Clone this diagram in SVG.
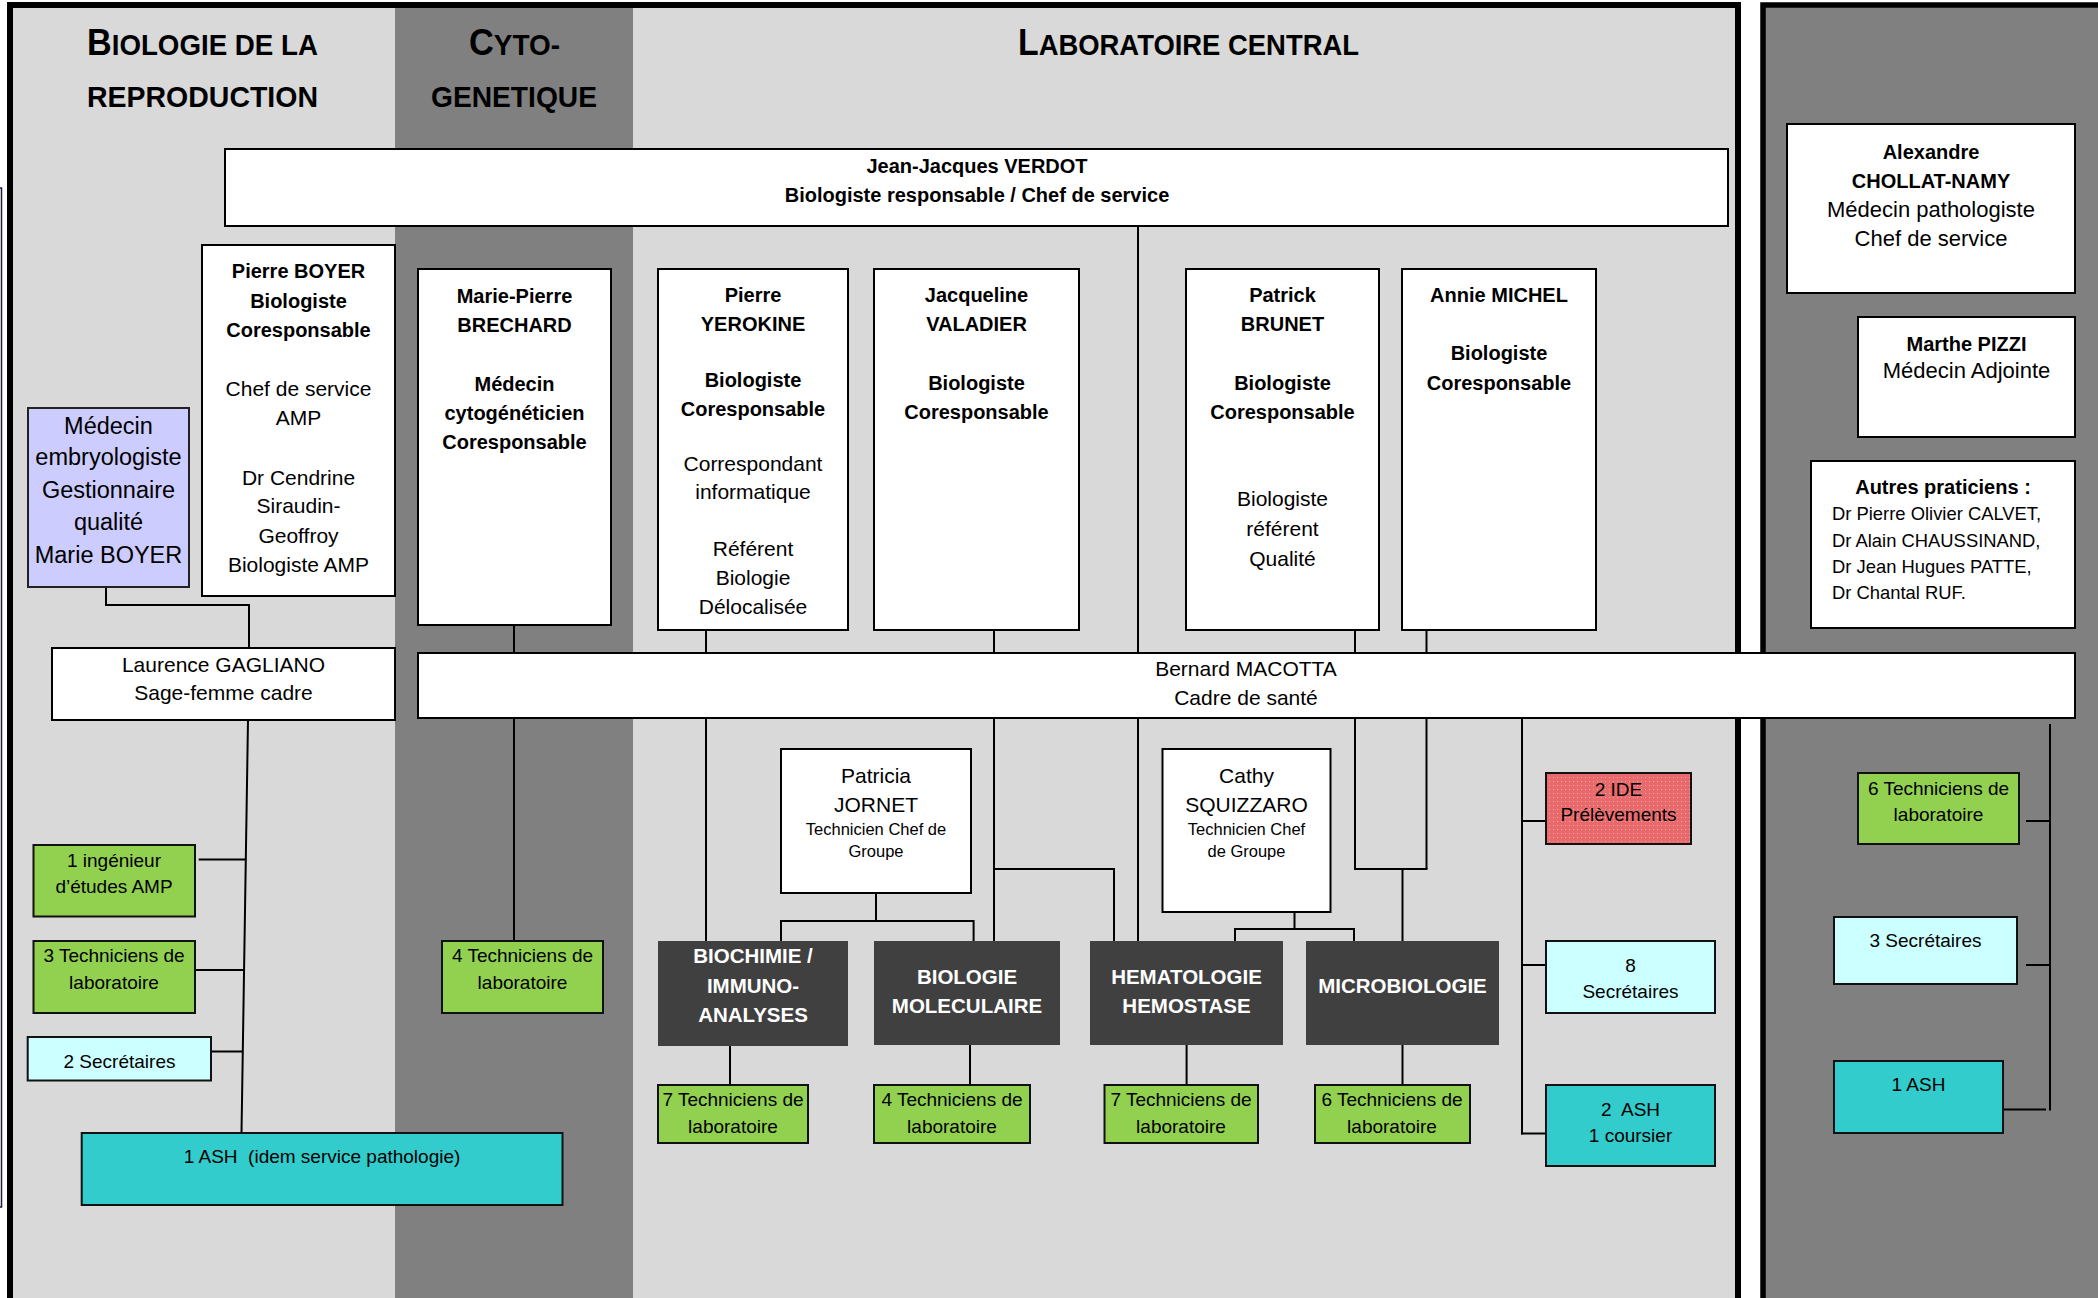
<svg xmlns="http://www.w3.org/2000/svg" width="2098" height="1298" viewBox="0 0 2098 1298">
<style>
text{font-family:"Liberation Sans",Arial,sans-serif;fill:#000;text-anchor:middle}
.h{font-weight:bold;text-anchor:start}
.b{font-size:20px;font-weight:bold}
.r{font-size:21px}
.m{font-size:23.5px}
.s{font-size:19px}
.xs{font-size:16.5px}
.rp{font-size:22px}
.dr{font-size:18.4px;text-anchor:start}
.w{font-size:20.5px;font-weight:bold;fill:#fff}
.box{fill:#fff;stroke:#000;stroke-width:2}
.lav{fill:#ccccff;stroke:#222;stroke-width:2}
.grn{fill:#92d050;stroke:#111;stroke-width:2}
.cya{fill:#ccffff;stroke:#111;stroke-width:2}
.tea{fill:#33cccc;stroke:#111;stroke-width:2}
.sec{fill:#404040}
.red{fill:url(#dots);stroke:#111;stroke-width:2}
#connectors line,#connectors polyline{stroke:#000;stroke-width:2;fill:none}
</style>
<defs>
<pattern id="dots" width="4" height="4" patternUnits="userSpaceOnUse">
<rect width="4" height="4" fill="#e96a6d"/>
<rect x="1" y="1" width="1" height="1" fill="#f4a3a4"/>
</pattern>
</defs>
<rect width="2098" height="1298" fill="#fff"/>
<g id="frames">
<rect x="-10" y="188" width="11.5" height="1019" fill="#fff" stroke="#1b1b3a" stroke-width="1.5"/>
<rect x="10" y="5" width="1728" height="1310" fill="#d9d9d9"/>
<rect x="395" y="8" width="238" height="1300" fill="#808080"/>
<rect x="10" y="5" width="1728" height="1310" fill="none" stroke="#000" stroke-width="6"/>
<rect x="1763" y="5" width="400" height="1310" fill="#808080" stroke="#000" stroke-width="5.5"/>
</g>
<g id="headings">
<text class="h" x="87" y="55" textLength="231" lengthAdjust="spacingAndGlyphs"><tspan font-size="37">B</tspan><tspan font-size="30">IOLOGIE DE LA</tspan></text>
<text class="h" x="87" y="107" font-size="30" textLength="231" lengthAdjust="spacingAndGlyphs">REPRODUCTION</text>
<text class="h" x="469" y="55" textLength="91" lengthAdjust="spacingAndGlyphs"><tspan font-size="37">C</tspan><tspan font-size="30">YTO-</tspan></text>
<text class="h" x="431" y="107" font-size="30" textLength="166" lengthAdjust="spacingAndGlyphs">GENETIQUE</text>
<text class="h" x="1018" y="55" textLength="341" lengthAdjust="spacingAndGlyphs"><tspan font-size="37">L</tspan><tspan font-size="30">ABORATOIRE CENTRAL</tspan></text>
</g>
<g id="connectors">
<line x1="1138" y1="226" x2="1138" y2="941"/>
<line x1="514" y1="625" x2="514" y2="941"/>
<line x1="706" y1="630" x2="706" y2="941"/>
<line x1="994" y1="630" x2="994" y2="941"/>
<polyline points="994,869 1114,869 1114,941"/>
<line x1="1355" y1="630" x2="1355" y2="869"/>
<line x1="1426.5" y1="630" x2="1426.5" y2="869"/>
<line x1="1354" y1="869" x2="1427.5" y2="869"/>
<line x1="1402.5" y1="869" x2="1402.5" y2="941"/>
<line x1="876" y1="893" x2="876" y2="921"/>
<polyline points="781,941 781,921 973.6,921 973.6,941"/>
<line x1="1294.5" y1="912" x2="1294.5" y2="929"/>
<polyline points="1235,941 1235,929 1354,929 1354,941"/>
<line x1="730" y1="1040" x2="730" y2="1085"/>
<line x1="970" y1="1040" x2="970" y2="1085"/>
<line x1="1186.6" y1="1040" x2="1186.6" y2="1085"/>
<line x1="1402.5" y1="1040" x2="1402.5" y2="1085"/>
<polyline points="106,577 106,605 249,605 249,648"/>
<line x1="248" y1="720" x2="241.5" y2="1133"/>
<line x1="198.7" y1="859.4" x2="246" y2="859.4"/>
<line x1="191" y1="970" x2="243.7" y2="970"/>
<line x1="207.6" y1="1051.6" x2="242.4" y2="1051.6"/>
<line x1="1522" y1="718" x2="1522" y2="1134.5"/>
<line x1="1521" y1="821" x2="1546" y2="821"/>
<line x1="1521" y1="965" x2="1546" y2="965"/>
<line x1="1521" y1="1133.5" x2="1546" y2="1133.5"/>
<line x1="2050" y1="724" x2="2050" y2="1110.5"/>
<line x1="2026" y1="821" x2="2051" y2="821"/>
<line x1="2026" y1="965" x2="2051" y2="965"/>
<line x1="2003" y1="1109.5" x2="2046" y2="1109.5"/>
</g>
<g id="verdot">
<rect class="box" x="225" y="149" width="1503" height="77"/>
<text class="b" x="977" y="173" font-size="20.5">Jean-Jacques VERDOT</text>
<text class="b" x="977" y="202" font-size="20.5">Biologiste responsable / Chef de service</text>
</g>
<g id="boyer">
<rect class="box" x="202" y="245" width="193" height="351"/>
<text class="b" x="298.5" y="278">Pierre BOYER</text>
<text class="b" x="298.5" y="308">Biologiste</text>
<text class="b" x="298.5" y="337">Coresponsable</text>
<text class="r" x="298.5" y="396">Chef de service</text>
<text class="r" x="298.5" y="425">AMP</text>
<text class="r" x="298.5" y="485">Dr Cendrine</text>
<text class="r" x="298.5" y="513">Siraudin-</text>
<text class="r" x="298.5" y="543">Geoffroy</text>
<text class="r" x="298.5" y="572">Biologiste AMP</text>
</g>
<g id="embryologiste">
<rect class="lav" x="28" y="408" width="161" height="179"/>
<text class="m" x="108.5" y="434">Médecin</text>
<text class="m" x="108.5" y="465">embryologiste</text>
<text class="m" x="108.5" y="498">Gestionnaire</text>
<text class="m" x="108.5" y="530">qualité</text>
<text class="m" x="108.5" y="563">Marie BOYER</text>
</g>
<g id="gagliano">
<rect class="box" x="52" y="648" width="343" height="72"/>
<text class="r" x="223.5" y="672">Laurence GAGLIANO</text>
<text class="r" x="223.5" y="700">Sage-femme cadre</text>
</g>
<g id="brechard">
<rect class="box" x="418" y="269" width="193" height="356"/>
<text class="b" x="514.5" y="303">Marie-Pierre</text>
<text class="b" x="514.5" y="332">BRECHARD</text>
<text class="b" x="514.5" y="391">Médecin</text>
<text class="b" x="514.5" y="420">cytogénéticien</text>
<text class="b" x="514.5" y="449">Coresponsable</text>
</g>
<g id="yerokine">
<rect class="box" x="658" y="269" width="190" height="361"/>
<text class="b" x="753" y="302">Pierre</text>
<text class="b" x="753" y="331">YEROKINE</text>
<text class="b" x="753" y="387">Biologiste</text>
<text class="b" x="753" y="416">Coresponsable</text>
<text class="r" x="753" y="471">Correspondant</text>
<text class="r" x="753" y="499">informatique</text>
<text class="r" x="753" y="556">Référent</text>
<text class="r" x="753" y="585">Biologie</text>
<text class="r" x="753" y="614">Délocalisée</text>
</g>
<g id="valadier">
<rect class="box" x="874" y="269" width="205" height="361"/>
<text class="b" x="976.5" y="302">Jacqueline</text>
<text class="b" x="976.5" y="331">VALADIER</text>
<text class="b" x="976.5" y="390">Biologiste</text>
<text class="b" x="976.5" y="419">Coresponsable</text>
</g>
<g id="brunet">
<rect class="box" x="1186" y="269" width="193" height="361"/>
<text class="b" x="1282.5" y="302">Patrick</text>
<text class="b" x="1282.5" y="331">BRUNET</text>
<text class="b" x="1282.5" y="390">Biologiste</text>
<text class="b" x="1282.5" y="419">Coresponsable</text>
<text class="r" x="1282.5" y="506">Biologiste</text>
<text class="r" x="1282.5" y="536">référent</text>
<text class="r" x="1282.5" y="566">Qualité</text>
</g>
<g id="michel">
<rect class="box" x="1402" y="269" width="194" height="361"/>
<text class="b" x="1499" y="302">Annie MICHEL</text>
<text class="b" x="1499" y="360">Biologiste</text>
<text class="b" x="1499" y="390">Coresponsable</text>
</g>
<g id="macotta">
<rect class="box" x="418" y="653" width="1657" height="65"/>
<text class="r" x="1246" y="676">Bernard MACOTTA</text>
<text class="r" x="1246" y="705">Cadre de santé</text>
</g>
<g id="chollat">
<rect class="box" x="1787" y="124" width="288" height="169"/>
<text class="b" x="1931" y="159" font-size="20.5">Alexandre</text>
<text class="b" x="1931" y="188" font-size="20.5">CHOLLAT-NAMY</text>
<text class="rp" x="1931" y="217">Médecin pathologiste</text>
<text class="rp" x="1931" y="246">Chef de service</text>
</g>
<g id="pizzi">
<rect class="box" x="1858" y="317" width="217" height="120"/>
<text class="b" x="1966.5" y="351" font-size="20.5">Marthe PIZZI</text>
<text class="rp" x="1966.5" y="378">Médecin Adjointe</text>
</g>
<g id="autres">
<rect class="box" x="1811" y="461" width="264" height="167"/>
<text class="b" x="1943" y="494" font-size="20.5">Autres praticiens :</text>
<text class="dr" x="1832" y="520">Dr Pierre Olivier CALVET,</text>
<text class="dr" x="1832" y="547">Dr Alain CHAUSSINAND,</text>
<text class="dr" x="1832" y="573">Dr Jean Hugues PATTE,</text>
<text class="dr" x="1832" y="599">Dr Chantal RUF.</text>
</g>
<g id="path-tech">
<rect class="grn" x="1858" y="773" width="161" height="71"/>
<text class="s" x="1938.5" y="795">6 Techniciens de</text>
<text class="s" x="1938.5" y="821">laboratoire</text>
</g>
<g id="path-secr">
<rect class="cya" x="1834" y="917" width="183" height="67"/>
<text class="s" x="1925.5" y="947">3 Secrétaires</text>
</g>
<g id="path-ash">
<rect class="tea" x="1834" y="1061" width="169" height="72"/>
<text class="s" x="1918.5" y="1091">1 ASH</text>
</g>
<g id="ide">
<rect class="red" x="1546" y="773" width="145" height="71"/>
<text class="s" x="1618.5" y="795.5">2 IDE</text>
<text class="s" x="1618.5" y="821">Prélèvements</text>
</g>
<g id="lab-secr">
<rect class="cya" x="1546" y="941" width="169" height="72"/>
<text class="s" x="1630.5" y="972">8</text>
<text class="s" x="1630.5" y="998">Secrétaires</text>
</g>
<g id="lab-ash">
<rect class="tea" x="1546" y="1085" width="169" height="81"/>
<text class="s" x="1630.5" y="1116">2&#160; ASH</text>
<text class="s" x="1630.5" y="1142">1 coursier</text>
</g>
<g id="jornet">
<rect class="box" x="781" y="749" width="190" height="144"/>
<text class="r" x="876" y="783">Patricia</text>
<text class="r" x="876" y="812">JORNET</text>
<text class="xs" x="876" y="835">Technicien Chef de</text>
<text class="xs" x="876" y="857">Groupe</text>
</g>
<g id="squizzaro">
<rect class="box" x="1162.5" y="749" width="168" height="163"/>
<text class="r" x="1246.5" y="783">Cathy</text>
<text class="r" x="1246.5" y="812">SQUIZZARO</text>
<text class="xs" x="1246.5" y="835">Technicien Chef</text>
<text class="xs" x="1246.5" y="857">de Groupe</text>
</g>
<g id="biochimie">
<rect class="sec" x="658" y="941" width="190" height="105"/>
<text class="w" x="753" y="963">BIOCHIMIE /</text>
<text class="w" x="753" y="993">IMMUNO-</text>
<text class="w" x="753" y="1022">ANALYSES</text>
</g>
<g id="biomol">
<rect class="sec" x="874" y="941" width="186" height="104"/>
<text class="w" x="967" y="984">BIOLOGIE</text>
<text class="w" x="967" y="1013">MOLECULAIRE</text>
</g>
<g id="hemato">
<rect class="sec" x="1090" y="941" width="193" height="104"/>
<text class="w" x="1186.5" y="984">HEMATOLOGIE</text>
<text class="w" x="1186.5" y="1013">HEMOSTASE</text>
</g>
<g id="micro">
<rect class="sec" x="1306" y="941" width="193" height="104"/>
<text class="w" x="1402.5" y="993">MICROBIOLOGIE</text>
</g>
<g id="tech-biochimie">
<rect class="grn" x="658" y="1085" width="150" height="58"/>
<text class="s" x="733" y="1106">7 Techniciens de</text>
<text class="s" x="733" y="1133">laboratoire</text>
</g>
<g id="tech-biomol">
<rect class="grn" x="874" y="1085" width="156" height="58"/>
<text class="s" x="952" y="1106">4 Techniciens de</text>
<text class="s" x="952" y="1133">laboratoire</text>
</g>
<g id="tech-hemato">
<rect class="grn" x="1104.5" y="1085" width="153.5" height="58"/>
<text class="s" x="1181" y="1106">7 Techniciens de</text>
<text class="s" x="1181" y="1133">laboratoire</text>
</g>
<g id="tech-micro">
<rect class="grn" x="1315" y="1085" width="155" height="58"/>
<text class="s" x="1392" y="1106">6 Techniciens de</text>
<text class="s" x="1392" y="1133">laboratoire</text>
</g>
<g id="tech-cyto">
<rect class="grn" x="442" y="941" width="161" height="72"/>
<text class="s" x="522.5" y="962">4 Techniciens de</text>
<text class="s" x="522.5" y="989">laboratoire</text>
</g>
<g id="ingenieur">
<rect class="grn" x="33.5" y="845" width="161.5" height="71.5"/>
<text class="s" x="114" y="867">1 ingénieur</text>
<text class="s" x="114" y="893">d’études AMP</text>
</g>
<g id="tech-amp">
<rect class="grn" x="33.5" y="941" width="161.5" height="72"/>
<text class="s" x="114" y="962">3 Techniciens de</text>
<text class="s" x="114" y="989">laboratoire</text>
</g>
<g id="secr-amp">
<rect class="cya" x="27.7" y="1037" width="183.3" height="43.5"/>
<text class="s" x="119.5" y="1068">2 Secrétaires</text>
</g>
<g id="ash-amp">
<rect class="tea" x="81.7" y="1133" width="480.8" height="72"/>
<text class="s" x="322" y="1163">1 ASH&#160; (idem service pathologie)</text>
</g>
</svg>
